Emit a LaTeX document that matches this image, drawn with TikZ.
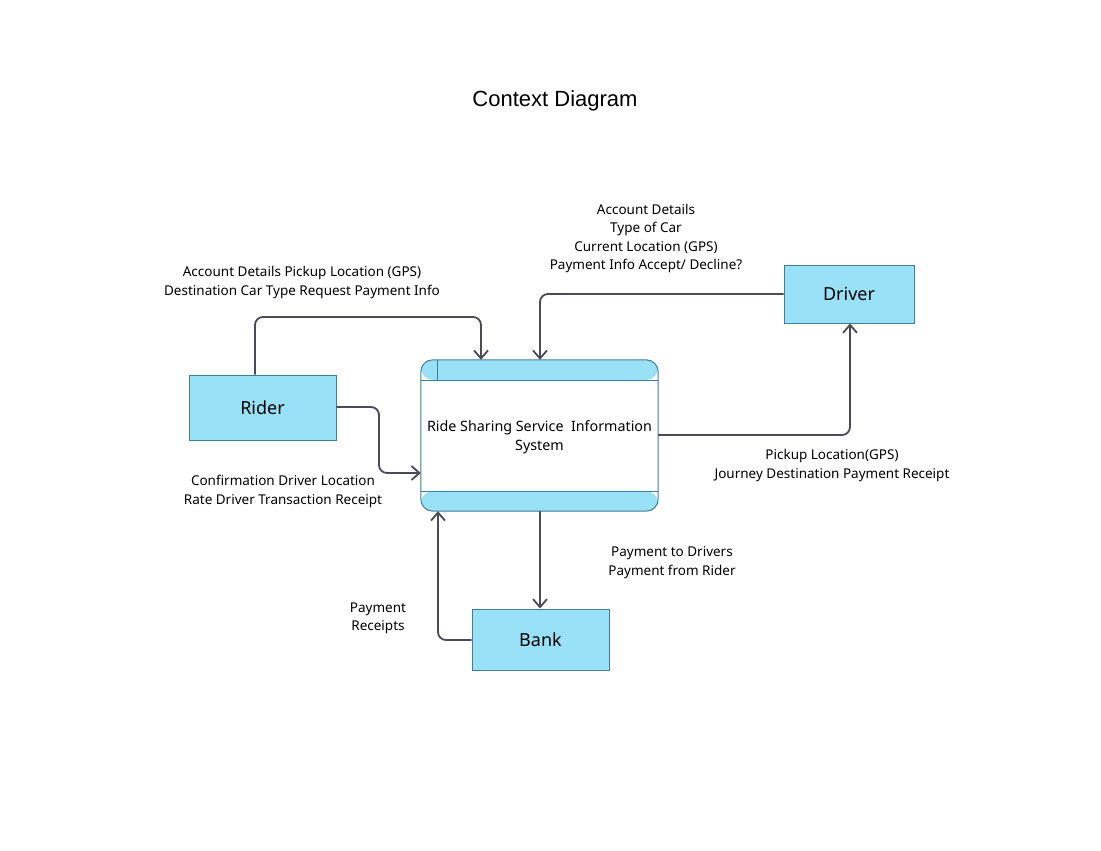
\documentclass[tikz,border=0pt]{standalone}
\usepackage{fontspec}
\setmainfont{Noto Sans}
\newfontfamily\titlefont{Liberation Sans}
\usetikzlibrary{arrows.meta}
\definecolor{boxfill}{RGB}{153,225,247}
\definecolor{boxline}{RGB}{65,125,150}
\definecolor{conn}{RGB}{75,75,85}
\begin{document}
\begin{tikzpicture}[x=1pt,y=-1pt,
  entity/.style={draw=boxline, fill=boxfill, line width=1pt, inner sep=0pt,
    font=\fontsize{18}{20}\selectfont},
  flow/.style={draw=conn, line width=1.8pt, rounded corners=8pt,
    -{Straight Barb[length=8pt,width=14pt,line width=1.8pt]}},
  lbl/.style={align=center, font=\fontsize{13.5}{18.5}\selectfont, inner sep=0pt}]
\useasboundingbox (0,0) rectangle (1101,851);
\fill[white] (0,0) rectangle (1101,851);

\node[font=\titlefont\fontsize{22}{24}\selectfont] (title) at (555,101) {Context Diagram};

\node[entity, minimum width=147pt, minimum height=65pt] (rider) at (262.5,407.5) {Rider};
\node[entity, minimum width=130pt, minimum height=58pt] (driver) at (849,294) {Driver};
\node[entity, minimum width=137pt, minimum height=61pt] (bank) at (540.5,639.5) {Bank};

\node[fill=white, rounded corners=12pt,
  minimum width=237pt, minimum height=151pt, inner sep=0pt,
  path picture={
    \fill[boxfill] (path picture bounding box.north west) rectangle ([yshift=-20pt]path picture bounding box.north east);
    \fill[boxfill] (path picture bounding box.south west) rectangle ([yshift=20pt]path picture bounding box.south east);
    \draw[boxline, line width=1pt] ([yshift=-20pt]path picture bounding box.north west) -- ([yshift=-20pt]path picture bounding box.north east);
    \draw[boxline, line width=1pt] ([yshift=20pt]path picture bounding box.south west) -- ([yshift=20pt]path picture bounding box.south east);
    \draw[boxline, line width=1pt] ([xshift=16pt]path picture bounding box.north west) -- ([xshift=16pt,yshift=-20pt]path picture bounding box.north west);
  }] (sys) at (539.5,435.5) {};
\draw[boxline, line width=1pt, rounded corners=12pt] (sys.north west) rectangle (sys.south east);
\node[align=center, inner sep=0pt, font=\fontsize{14.3}{19}\selectfont] (systxt) at (539.5,437.5) {Ride Sharing Service\ \ Information\\System};

% connectors
\draw[flow] (rider.north -| 255,0) -- (255,317) -- (481,317) -- (sys.north -| 481,0);
\draw[flow] (rider.east |- 0,407) -- (379,407) -- (379,473) -- (sys.west |- 0,473);
\draw[flow] (driver.west |- 0,294) -- (540,294) -- (sys.north -| 540,0);
\draw[flow] (sys.east |- 0,435) -- (850,435) -- (driver.south -| 850,0);
\draw[flow] (sys.south -| 540,0) -- (bank.north -| 540,0);
\draw[flow] (bank.west |- 0,640) -- (438,640) -- (sys.south -| 438,0);

% labels
\node[lbl] (l1) at (302,282.5) {Account Details Pickup Location (GPS)\\Destination Car Type Request Payment Info};
\node[lbl] (l2) at (646,238.5) {Account Details\\Type of Car\\Current Location (GPS)\\Payment Info Accept/ Decline?};
\node[lbl] (l3) at (832,465.5) {Pickup Location(GPS)\\Journey Destination Payment Receipt};
\node[lbl] (l4) at (283,491.5) {Confirmation Driver Location\\Rate Driver Transaction Receipt};
\node[lbl] (l5) at (672,562.5) {Payment to Drivers\\Payment from Rider};
\node[lbl] (l6) at (378,618.5) {Payment\\Receipts};
\end{tikzpicture}
\end{document}
